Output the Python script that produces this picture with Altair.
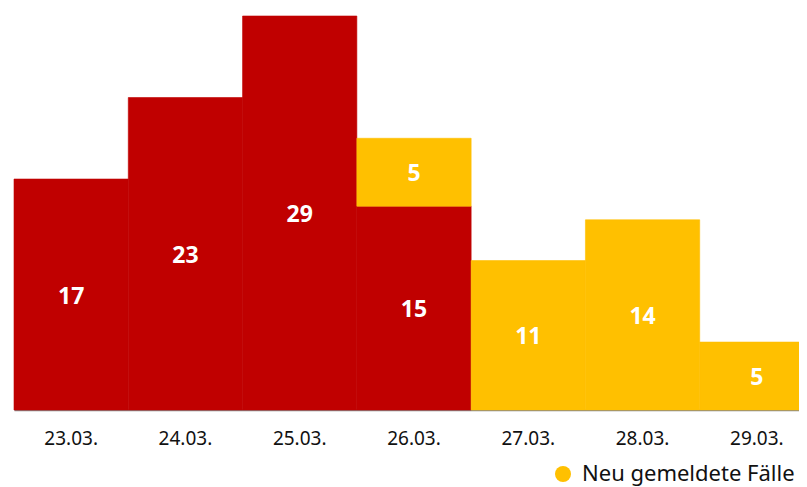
import altair as alt
import pandas as pd

dates = ["23.03.", "24.03.", "25.03.", "26.03.", "27.03.", "28.03.", "29.03."]
red_values = [17, 23, 29, 15, 0, 0, 0]
yellow_values = [0, 0, 0, 5, 11, 14, 5]
series_red = "Gemeldete Fälle"
series_yellow = "Neu gemeldete Fälle"

rows = []
for d, r, y in zip(dates, red_values, yellow_values):
    rows.append({"date": d, "series": series_red, "value": r, "order": 0})
    rows.append({"date": d, "series": series_yellow, "value": y, "order": 1})
df = pd.DataFrame(rows)

FONT = "Noto Sans"
color_scale = alt.Scale(domain=[series_red, series_yellow], range=["#C00000", "#FFC000"])

x = alt.X("date:N", sort=dates, title=None,
          scale=alt.Scale(paddingInner=0, paddingOuter=0, range=[0, 800]),
          axis=alt.Axis(labelAngle=0, ticks=False, labelFontSize=19, labelColor="#111111",
                        labelFont=FONT, labelPadding=19, domainColor="#888888", domainWidth=1.5))
y = alt.Y("value:Q", stack="zero", title=None,
          scale=alt.Scale(domain=[0, 29], nice=False),
          axis=None)

color = alt.Color("series:N", scale=color_scale,
                  legend=alt.Legend(values=[series_yellow], title=None, orient="none",
                                    legendX=538, legendY=447, symbolType="circle", symbolSize=256,
                                    labelFontSize=22, labelFont=FONT, labelColor="#111111",
                                    symbolStrokeWidth=0, labelOffset=8, labelLimit=0, padding=0))

base = alt.Chart(df).transform_filter("datum.value > 0")

bars = base.mark_bar(strokeWidth=0.6).encode(
    x=x, y=y, color=color,
    stroke=alt.Stroke("series:N", scale=color_scale, legend=None),
    order=alt.Order("order:Q")
)

labels = base.mark_text(
    color="white", fontWeight="bold", fontSize=23, font=FONT, dy=2
).encode(
    x=alt.X("date:N", sort=dates),
    y=alt.Y("value:Q", stack="zero", bandPosition=0.5),
    detail="series:N",
    order=alt.Order("order:Q"),
    text="value:Q",
)

chart = alt.layer(bars, labels).properties(
    width=785, height=394,
    padding={"left": 6, "top": 8, "right": 0, "bottom": 77},
    autosize=alt.AutoSizeParams(type="none"),
).configure_view(stroke=None).configure_scale(bandPaddingInner=0, bandPaddingOuter=0)

chart.save("out.html", embed_options={"renderer": "svg", "actions": False})
